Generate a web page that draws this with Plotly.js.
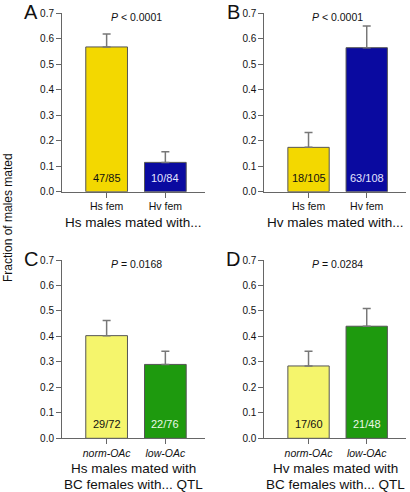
<!DOCTYPE html>
<html><head><meta charset="utf-8">
<script src="https://cdn.plot.ly/plotly-3.0.1.min.js"></script>
<style>html,body{margin:0;padding:0;background:#fff}</style>
</head><body><div id="chart" style="width:410px;height:492px"></div>
<script>
// Panel A
const catsA = ["Hs fem", "Hv fem"];
const valsA = [0.568, 0.115];
const errA = [0.051, 0.042];
const countsA = ["47/85", "10/84"];
// Panel B
const catsB = ["Hs fem", "Hv fem"];
const valsB = [0.174, 0.565];
const errB = [0.058, 0.085];
const countsB = ["18/105", "63/108"];
// Panel C
const catsC = ["<i>norm-OAc</i>", "<i>low-OAc</i>"];
const valsC = [0.403, 0.290];
const errC = [0.059, 0.052];
const countsC = ["29/72", "22/76"];
// Panel D
const catsD = ["<i>norm-OAc</i>", "<i>low-OAc</i>"];
const valsD = [0.284, 0.440];
const errD = [0.058, 0.070];
const countsD = ["17/60", "21/48"];

const pLabels = ["<i>P</i> < 0.0001", "<i>P</i> < 0.0001", "<i>P</i> = 0.0168", "<i>P</i> = 0.0284"];
const xTitles = [["Hs males mated with..."], ["Hv males mated with..."],
  ["Hs males mated with", "BC females with... QTL"], ["Hv males mated with", "BC females with... QTL"]];
const letters = ["A", "B", "C", "D"];
const yTitle = "Fraction of males mated";

const FONT = "Liberation Sans, Arial, Helvetica, sans-serif";
const W = 410, H = 492;
const colorsAB = ["#F3D800", "#0A0AA0"];
const colorsCD = ["#F5F56C", "#1E9A0E"];
const txtColAB = ["#111", "#E4E4FF"];
const txtColCD = ["#111", "#EAF8E6"];

const panels = [
  {cats: catsA, vals: valsA, err: errA, counts: countsA, colors: colorsAB, tc: txtColAB, x0: 62, x1: 205, yt: 13.3, yb: 191.7},
  {cats: catsB, vals: valsB, err: errB, counts: countsB, colors: colorsAB, tc: txtColAB, x0: 264.3, x1: 406, yt: 13.3, yb: 191.7},
  {cats: catsC, vals: valsC, err: errC, counts: countsC, colors: colorsCD, tc: txtColCD, x0: 62, x1: 205, yt: 260, yb: 438.3},
  {cats: catsD, vals: valsD, err: errD, counts: countsD, colors: colorsCD, tc: txtColCD, x0: 264.3, x1: 406, yt: 260, yb: 438.3}
];

const traces = [];
const layout = {
  width: W, height: H, margin: {l: 0, r: 0, t: 0, b: 0},
  paper_bgcolor: "#fff", plot_bgcolor: "#fff", showlegend: false,
  font: {family: FONT, size: 10, color: "#111"},
  annotations: []
};

panels.forEach((p, i) => {
  const n = i + 1;
  const xa = "x" + (n === 1 ? "" : n), ya = "y" + (n === 1 ? "" : n);
  const xk = "xaxis" + (n === 1 ? "" : n), yk = "yaxis" + (n === 1 ? "" : n);
  traces.push({
    type: "bar", x: [0, 1], y: p.vals, width: 0.71, xaxis: xa, yaxis: ya,
    marker: {color: p.colors, line: {color: "#555", width: 1}},
    error_y: {type: "data", symmetric: false, array: p.err, arrayminus: [0, 0],
      color: "#777", thickness: 1.5, width: 4},
    hoverinfo: "none"
  });
  layout[xk] = {
    domain: [p.x0 / W, p.x1 / W], anchor: ya, range: [-0.76, 1.675],
    tickvals: [0, 1], ticktext: p.cats, ticks: "outside", ticklen: 5, tickcolor: "#666",
    showline: true, linecolor: "#666", linewidth: 1, showgrid: false, zeroline: false,
    tickfont: {size: 10.5, family: FONT, color: "#111"}, fixedrange: true
  };
  layout[yk] = {
    domain: [1 - p.yb / H, 1 - p.yt / H], anchor: xa, range: [0, 0.7],
    dtick: 0.1, tick0: 0, tickformat: ".1f", ticks: "outside", ticklen: 5, tickcolor: "#666",
    showline: true, linecolor: "#666", linewidth: 1, showgrid: false, zeroline: false,
    tickfont: {size: 10, family: FONT, color: "#111"}, fixedrange: true
  };
  // counts inside bars
  p.counts.forEach((c, j) => {
    layout.annotations.push({
      xref: xa, yref: ya, x: j, y: 0, yanchor: "bottom", yshift: 6,
      text: c, showarrow: false, font: {size: 11, family: FONT, color: p.tc[j]}
    });
  });
  // P value
  layout.annotations.push({
    xref: xa, yref: "paper", x: 0.5, y: 1 - (p.yt + 4) / H, yanchor: "middle",
    text: pLabels[i], showarrow: false, font: {size: 10.5, family: FONT, color: "#111"}
  });
  // panel letter
  layout.annotations.push({
    xref: "paper", yref: "paper", x: (p.x0 - 31) / W, y: 1 - (p.yt - 1) / H,
    xanchor: "center", yanchor: "middle",
    text: letters[i], showarrow: false, font: {size: 20, family: FONT, color: "#111"}
  });
  // x title lines
  xTitles[i].forEach((line, k) => {
    layout.annotations.push({
      xref: xa, yref: "paper", x: 0.46, y: 1 - (p.yb + 30.5 + 16 * k) / H, yanchor: "middle",
      text: line, showarrow: false,
      font: {size: 13.5, family: FONT, color: "#111"}
    });
  });
});

layout.annotations.push({
  xref: "paper", yref: "paper", x: 8 / W, y: 1 - 218 / H, xanchor: "center", yanchor: "middle",
  text: yTitle, textangle: -90, showarrow: false, font: {size: 12, family: FONT, color: "#111"}
});

Plotly.newPlot("chart", traces, layout, {displayModeBar: false, staticPlot: true});
</script></body></html>
